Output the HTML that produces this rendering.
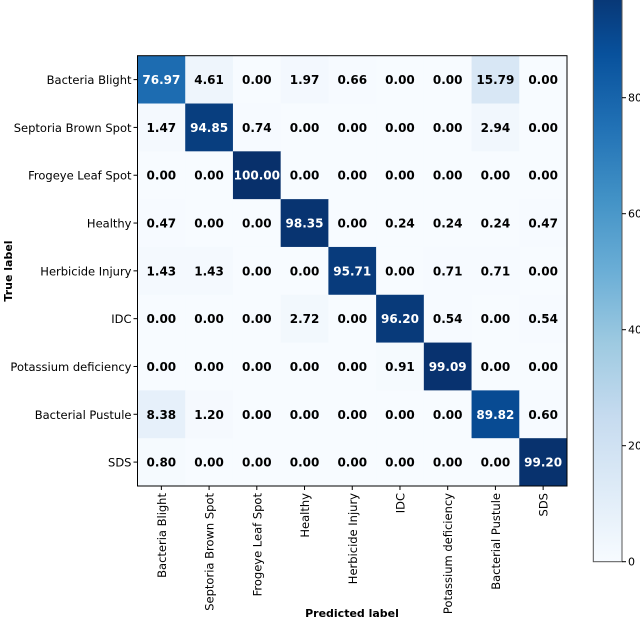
<!DOCTYPE html>
<html><head><meta charset="utf-8"><style>
html,body{margin:0;padding:0;background:#fff;}
svg{display:block;font-family:"DejaVu Sans","Liberation Sans",sans-serif;}
</style></head><body>
<svg id="chart" width="640" height="622" viewBox="0 0 640 622">
<defs>
<linearGradient id="cb" x1="0" y1="1" x2="0" y2="0">
<stop offset="0" stop-color="#f7fbff"/><stop offset="0.125" stop-color="#deebf7"/><stop offset="0.25" stop-color="#c6dbef"/><stop offset="0.375" stop-color="#9ecae1"/><stop offset="0.5" stop-color="#6baed6"/><stop offset="0.625" stop-color="#4292c6"/><stop offset="0.75" stop-color="#2171b5"/><stop offset="0.875" stop-color="#08519c"/><stop offset="1" stop-color="#08306b"/>
</linearGradient>
</defs>
<g id="cells"></g>
<g id="labels"></g>
<text x="12" y="271" transform="rotate(-90 12 271)" text-anchor="middle" font-size="11" font-weight="bold">True label</text>
<text x="352" y="617" text-anchor="middle" font-size="11" font-weight="bold">Predicted label</text>
<g id="colorbar"></g>
</svg>
<script>
const categories = ["Bacteria Blight","Septoria Brown Spot","Frogeye Leaf Spot","Healthy","Herbicide Injury","IDC","Potassium deficiency","Bacterial Pustule","SDS"];
const row0 = [76.97,4.61,0.00,1.97,0.66,0.00,0.00,15.79,0.00];
const row1 = [1.47,94.85,0.74,0.00,0.00,0.00,0.00,2.94,0.00];
const row2 = [0.00,0.00,100.00,0.00,0.00,0.00,0.00,0.00,0.00];
const row3 = [0.47,0.00,0.00,98.35,0.00,0.24,0.24,0.24,0.47];
const row4 = [1.43,1.43,0.00,0.00,95.71,0.00,0.71,0.71,0.00];
const row5 = [0.00,0.00,0.00,2.72,0.00,96.20,0.54,0.00,0.54];
const row6 = [0.00,0.00,0.00,0.00,0.00,0.91,99.09,0.00,0.00];
const row7 = [8.38,1.20,0.00,0.00,0.00,0.00,0.00,89.82,0.60];
const row8 = [0.80,0.00,0.00,0.00,0.00,0.00,0.00,0.00,99.20];
const colorbarTicks = [0,20,40,60,80];
const matrix = [row0,row1,row2,row3,row4,row5,row6,row7,row8];

const NS="http://www.w3.org/2000/svg";
const X0=137.5,Y0=55.7,X1=567,Y1=486;
const n=categories.length;
const cw=(X1-X0)/n, ch=(Y1-Y0)/n;
const vmax=100;
const stops=["#f7fbff","#deebf7","#c6dbef","#9ecae1","#6baed6","#4292c6","#2171b5","#08519c","#08306b"].map(h=>[parseInt(h.slice(1,3),16),parseInt(h.slice(3,5),16),parseInt(h.slice(5,7),16)]);
function blues(v){let t=Math.max(0,Math.min(1,v/vmax))*8;let i=Math.min(7,Math.floor(t));let f=t-i;
 const a=stops[i],b=stops[i+1];return "rgb("+a.map((c,k)=>Math.round(c+(b[k]-c)*f)).join(",")+")";}
function xs(j){return X0+j*cw;}
function ys(i){return Y0+i*ch;}
function mk(tag,attrs,parent){const e=document.createElementNS(NS,tag);for(const k in attrs)e.setAttribute(k,attrs[k]);parent.appendChild(e);return e;}
const cells=document.getElementById('cells'), labels=document.getElementById('labels'), cb=document.getElementById('colorbar');
matrix.forEach((row,i)=>row.forEach((v,j)=>{
 const r=mk('rect',{x:xs(j),y:ys(i),width:cw+0.5,height:ch+0.5,fill:blues(v)},cells);
 
 
 const t=mk('text',{x:xs(j)+cw/2,y:ys(i)+ch/2+4.5,'text-anchor':'middle','font-size':'12','font-weight':'bold',fill:v>50?'#fff':'#000'},cells);
 t.textContent=v.toFixed(2);
 
 
}));
const fr=mk('rect',{x:X0,y:Y0,width:X1-X0,height:Y1-Y0,fill:'none',stroke:'#000','stroke-width':1},cells);


categories.forEach((c,i)=>{
 const y=ys(i)+ch/2;
 mk('line',{x1:X0-4,y1:y,x2:X0,y2:y,stroke:'#000'},labels);
 const t=mk('text',{x:X0-6,y:y+4.5,'text-anchor':'end','font-size':'11.5'},labels);
 t.textContent=c;
 
 
 const x=xs(i)+cw/2;
 mk('line',{x1:x,y1:Y1,x2:x,y2:Y1+4,stroke:'#000'},labels);
 const tx=mk('text',{x:x+4.5,y:Y1+7,'text-anchor':'end','font-size':'11.5',transform:'rotate(-90 '+(x+4.5)+' '+(Y1+7)+')'},labels);
 tx.textContent=c;
 
 
});
const CB0=561.7, pxu=5.8, CBX=593.3, CBW=28.7;
function cy(v){return CB0-v*pxu;}
const bar=mk('rect',{x:CBX,y:cy(vmax),width:CBW,height:vmax*pxu,fill:'url(#cb)',stroke:'#555','stroke-width':1},cb);


colorbarTicks.forEach(v=>{
 mk('line',{x1:CBX+CBW,y1:cy(v),x2:CBX+CBW+4,y2:cy(v),stroke:'#000'},cb);
 const t=mk('text',{x:CBX+CBW+6,y:cy(v)+4,'font-size':'11'},cb);
 t.textContent=v;
 
 
});
</script>
</body></html>
